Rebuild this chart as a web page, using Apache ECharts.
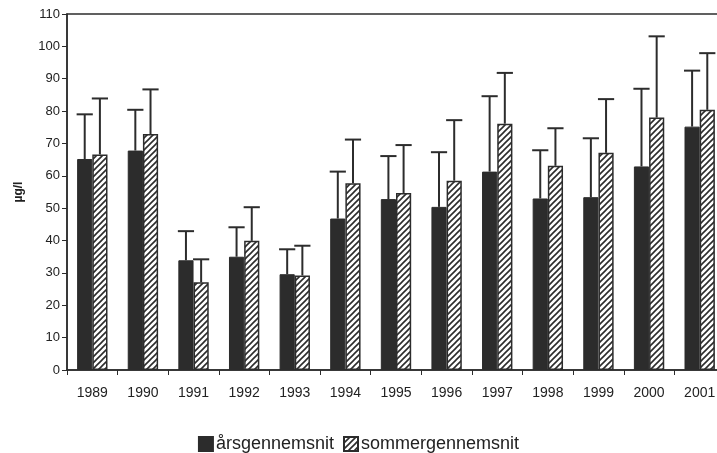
<!DOCTYPE html>
<html>
<head>
<meta charset="utf-8">
<script src="https://cdn.jsdelivr.net/npm/echarts@6/dist/echarts.min.js"></script>
<style>
  html, body { margin: 0; padding: 0; background: #fff; }
  #chart { width: 717px; height: 453px; }
</style>
</head>
<body>
<div id="chart"></div>
<script>
const years = ['1989', '1990', '1991', '1992', '1993', '1994', '1995', '1996', '1997', '1998', '1999', '2000', '2001']
const annualMean = [65.2, 67.8, 33.9, 35.0, 29.6, 46.8, 52.8, 50.4, 61.3, 53.0, 53.4, 62.9, 75.2]
const annualUpper = [79.0, 80.4, 42.9, 44.1, 37.3, 61.3, 66.1, 67.3, 84.6, 67.9, 71.6, 86.9, 92.5]
const summerMean = [66.6, 72.9, 27.1, 39.9, 29.2, 57.7, 54.7, 58.5, 76.1, 63.1, 67.1, 78.0, 80.4]
const summerUpper = [83.9, 86.7, 34.2, 50.3, 38.4, 71.2, 69.5, 77.2, 91.8, 74.7, 83.7, 103.1, 97.9]

const ink = '#2c2c2c'

// diagonal hatch for the summer bars
function hatch() {
  const c = document.createElement('canvas')
  c.width = 6
  c.height = 6
  const ctx = c.getContext('2d')
  ctx.fillStyle = '#fff'
  ctx.fillRect(0, 0, 6, 6)
  ctx.strokeStyle = ink
  ctx.lineWidth = 1.6
  ctx.beginPath()
  ctx.moveTo(-1, 7); ctx.lineTo(7, -1)
  ctx.moveTo(-4, 4); ctx.lineTo(4, -4)
  ctx.moveTo(2, 10); ctx.lineTo(10, 2)
  ctx.stroke()
  return c
}

const hatchFill = { image: hatch(), repeat: 'repeat' }

function errorBars(means, uppers, offset) {
  return {
    type: 'custom',
    silent: true,
    z: 5,
    data: means.map((m, i) => [i, uppers[i], m]),
    renderItem(params, api) {
      const idx = api.value(0)
      const band = api.size([1, 0])[0]
      const top = api.coord([idx, api.value(1)])
      const base = api.coord([idx, api.value(2)])
      const x = top[0] + offset * band
      const cap = 0.16 * band
      const style = { stroke: ink, lineWidth: 2 }
      return {
        type: 'group',
        children: [
          { type: 'line', shape: { x1: x, y1: base[1], x2: x, y2: top[1] }, style },
          { type: 'line', shape: { x1: x - cap, y1: top[1], x2: x + cap, y2: top[1] }, style },
        ],
      }
    },
  }
}

const chart = echarts.init(document.getElementById('chart'))
chart.setOption({
  animation: false,
  textStyle: { fontFamily: 'Liberation Sans, Arial, sans-serif' },
  grid: {
    left: 67, width: 658, top: 14, bottom: 83,
    outerBoundsMode: 'none',
    show: true, borderColor: ink, borderWidth: 1.5, backgroundColor: 'transparent',
  },
  legend: {
    top: 430,
    left: 'center',
    icon: 'rect',
    itemWidth: 14,
    itemHeight: 14,
    itemGap: 9,
    textStyle: { color: '#222', fontSize: 18, padding: [0, 0, 0, -2] },
    data: ['årsgennemsnit', 'sommergennemsnit'],
  },
  xAxis: {
    type: 'category',
    data: years,
    axisLine: { lineStyle: { color: ink, width: 1.5 } },
    axisTick: { show: true, alignWithLabel: false, length: 5, lineStyle: { color: ink } },
    axisLabel: { color: '#222', fontSize: 14, margin: 16 },
  },
  yAxis: {
    type: 'value',
    min: 0,
    max: 110,
    interval: 10,
    name: 'µg/l',
    nameLocation: 'middle',
    nameGap: 42,
    nameTextStyle: { color: '#222', fontSize: 12, fontWeight: 'bold' },
    axisLine: { show: true, lineStyle: { color: ink, width: 1.5 } },
    axisTick: { show: true, length: 5, lineStyle: { color: ink } },
    axisLabel: { color: '#222', fontSize: 13, margin: 7 },
    splitLine: { show: false },
  },
  series: [
    {
      name: 'årsgennemsnit',
      type: 'bar',
      barWidth: '30%',
      barGap: '0%',
      data: annualMean,
      itemStyle: { color: ink, borderColor: ink, borderWidth: 1 },
    },
    {
      name: 'sommergennemsnit',
      type: 'bar',
      barWidth: '30%',
      barGap: '0%',
      data: summerMean,
      itemStyle: { color: hatchFill, borderColor: ink, borderWidth: 1.5 },
    },
    errorBars(annualMean, annualUpper, -0.15),
    errorBars(summerMean, summerUpper, 0.15),
  ],
})
</script>
</body>
</html>
